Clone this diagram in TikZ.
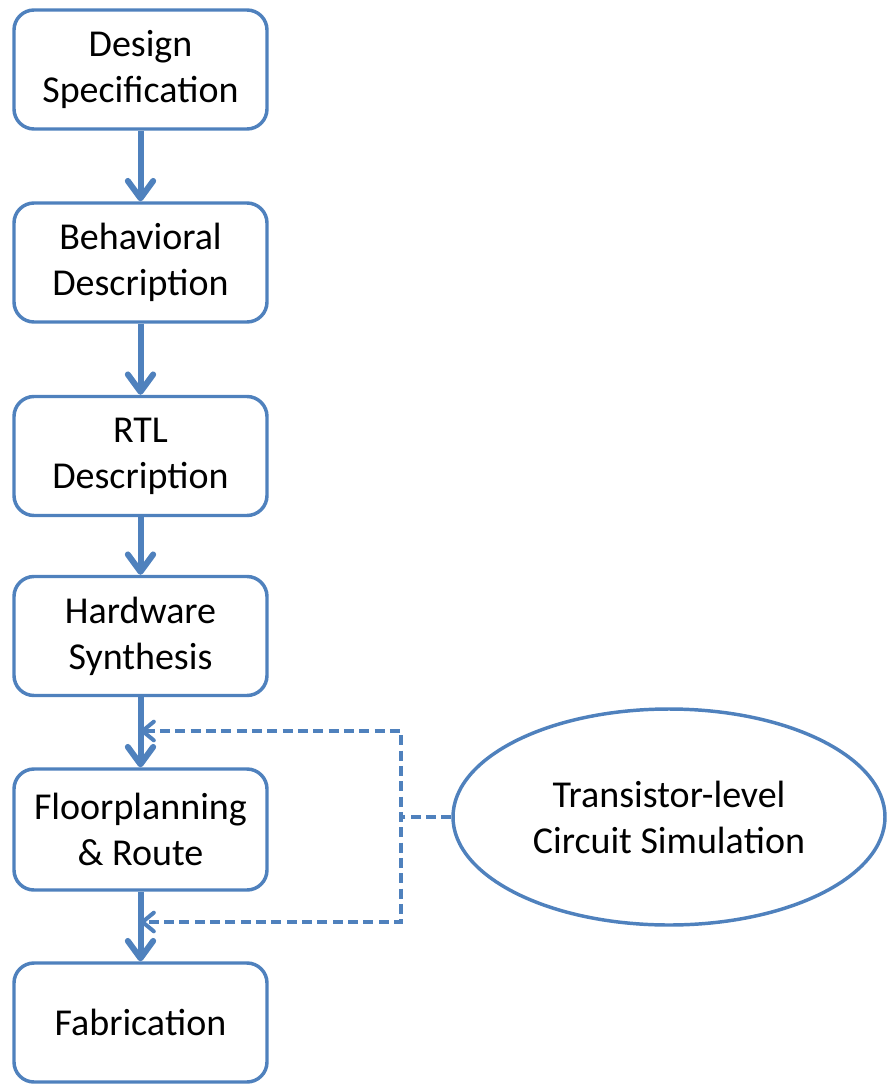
\documentclass[tikz,border=0pt]{standalone}
\usepackage{fontspec}
\setmainfont{Carlito}
\usetikzlibrary{arrows.meta,shapes.geometric}
\definecolor{flowblue}{HTML}{4F81BD}
% zero-width break that keeps "t" and "i" as separate glyphs
\newcommand{\sep}{\kern0pt}
\begin{document}
\begin{tikzpicture}[x=0.75pt,y=-0.75pt,
  stagebox/.style={draw=flowblue,line width=2.6pt,rounded corners=15pt,fill=white,
    minimum width=189.75pt,minimum height=89.25pt,align=center,inner sep=0pt,
    font=\fontsize{28.5pt}{34.5pt}\selectfont},
  simnode/.style={draw=flowblue,line width=2.6pt,ellipse,fill=white,
    minimum width=324pt,minimum height=162pt,align=center,inner sep=0pt,
    font=\fontsize{28.5pt}{34.5pt}\selectfont},
  flowarrow/.style={draw=flowblue,line width=4.5pt,
    -{Straight Barb[length=13pt,width=19pt,line cap=round,line join=round]}},
  feedback/.style={draw=flowblue,line width=3pt,dash pattern=on 7.5pt off 4pt}
]
\useasboundingbox (0,0) rectangle (891,1089);

% design flow stages
\node[stagebox] (spec) at (140.5,69.5) {Design\\Specifica\sep tion};
\node[stagebox] (beh)  at (140.5,262.5) {Behavioral\\Descrip\sep tion};
\node[stagebox] (rtl)  at (140.5,456) {RTL\\Descrip\sep tion};
\node[stagebox] (hw)   at (140.5,636) {Hardware\\Synthesis};
\node[stagebox,minimum height=90.75pt] (fp) at (140.5,829.5) {Floorplanning\\\& Route};
\node[stagebox] (fab)  at (140.5,1022.5) {Fabrica\sep tion};

% simulation loop
\node[simnode] (sim) at (669,817) {Transistor-level\\Circuit Simula\sep tion};

% forward arrows between stages
\draw[flowarrow] (spec.south) -- (beh.north);
\draw[flowarrow] (beh.south) -- (rtl.north);
\draw[flowarrow] (rtl.south) -- (hw.north);
\draw[flowarrow] (hw.south) -- (fp.north);
\draw[flowarrow] (fp.south) -- (fab.north);

% dashed feedback from simulation into the flow
\coordinate (join) at (401,817);
\coordinate (jtop) at (401,731);
\coordinate (jbot) at (401,922);
\draw[feedback] (sim.west) -- (join);
\draw[feedback,
  {Straight Barb[length=8.5pt,width=14pt,line cap=round,line join=round]}-{Straight Barb[length=8.5pt,width=14pt,line cap=round,line join=round]}]
  (jtop -| hw.south) -- (jtop) -- (jbot) -- (jbot -| fp.south);
\end{tikzpicture}
\end{document}
